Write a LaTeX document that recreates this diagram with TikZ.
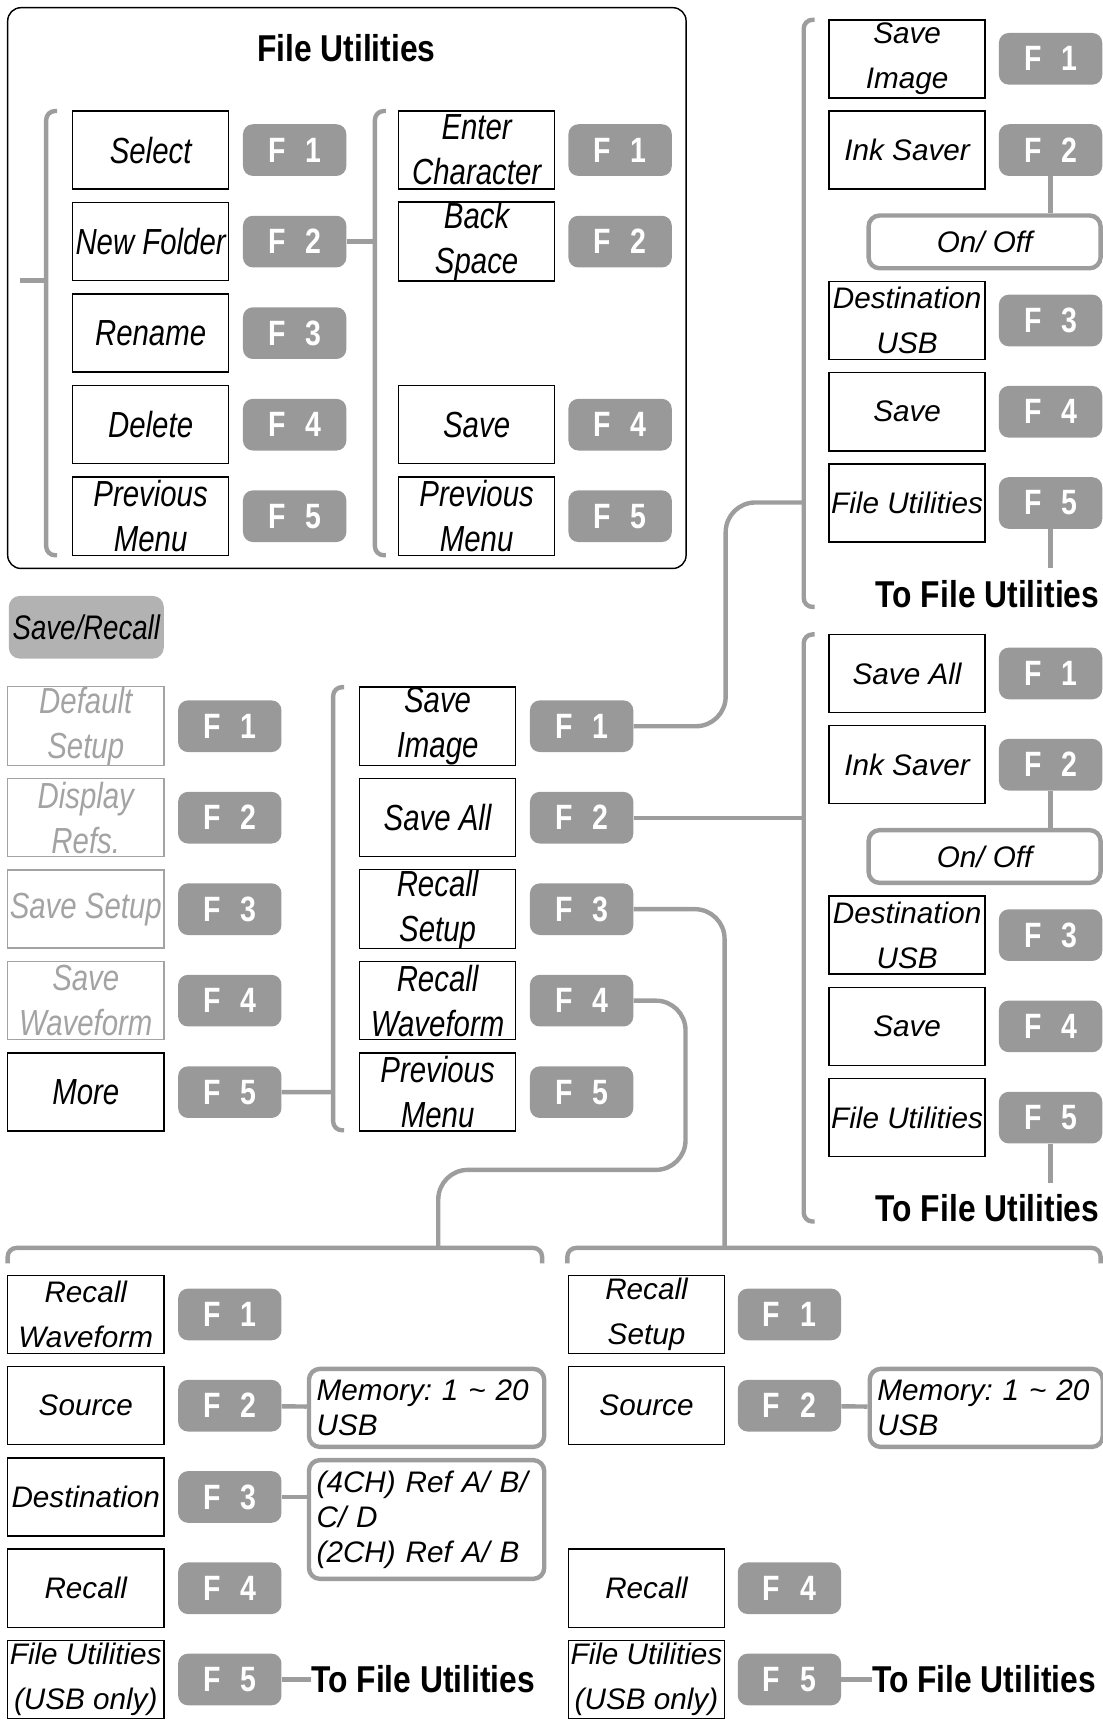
\documentclass[tikz,border=0pt]{standalone}
\usepackage{fontspec}
\setmainfont{Liberation Sans}
\newfontfamily\narrow[FakeStretch=0.81]{Liberation Sans}
\newfontfamily\narrowbf[FakeStretch=0.85]{Liberation Sans}
\usetikzlibrary{positioning}
\definecolor{keygrey}{HTML}{999999}
\definecolor{linegrey}{HTML}{9D9D9D}
\definecolor{offgrey}{HTML}{A3A3A3}
\definecolor{srgrey}{HTML}{B2B2B2}
\newcommand\Fk[1]{F\hspace{18pt}#1\hspace{5pt}}
\frenchspacing

\begin{document}
\begin{tikzpicture}[x=1pt, y=-1pt,
    item/.style={draw, line width=1.3pt, minimum width=142pt, minimum height=71pt, inner sep=0pt, align=center, font=\fontsize{27}{41}\selectfont\itshape},
    nitem/.style={item, font=\narrow\fontsize{33}{41}\selectfont\itshape},
    offitem/.style={nitem, draw=offgrey, text=offgrey},
    fkey/.style={fill=keygrey, rounded corners=9pt, minimum width=94pt, minimum height=47pt, inner sep=0pt, text=white, font=\narrow\fontsize{32}{32}\selectfont\bfseries},
    choice/.style={draw=linegrey, line width=4pt, rounded corners=10pt, minimum width=214pt, text width=200pt, inner xsep=7pt, inner ysep=0pt, align=left, anchor=north west, font=\fontsize{27}{32}\selectfont\itshape},
    onoff/.style={draw=linegrey, line width=4pt, rounded corners=10pt, minimum width=211pt, minimum height=48pt, inner sep=0pt, font=\fontsize{27}{32}\selectfont\itshape},
    goto/.style={inner sep=0pt, font=\narrowbf\fontsize{34}{34}\selectfont\bfseries},
    link/.style={draw=linegrey, line width=4pt, rounded corners=27pt},
    bracket/.style={draw=linegrey, line width=4pt, rounded corners=8pt}
  ]
  \useasboundingbox (0,0) rectangle (1003,1568);

  % File Utilities panel
  \node[draw, line width=1.3pt, rounded corners=12pt, minimum width=617pt, minimum height=510pt] (fu) at (315.5,262) {};
  \node[goto] (futitle) at (315,44) {File Utilities};
  \foreach \txt [count=\i] in {Select, New Folder, Rename, Delete, Previous\\Menu} {
    \node[nitem] (fa\i) at (137,{136.5+83.25*(\i-1)}) {\txt};
    \node[fkey] (fa-k\i) at (268,{136.5+83.25*(\i-1)}) {\Fk{\i}};
  }
  \foreach \txt/\i in {Enter\\Character/1, Back\\Space/2, Save/4, Previous\\Menu/5} {
    \node[nitem] (fb\i) at (433.5,{136.5+83.25*(\i-1)}) {\txt};
    \node[fkey] (fb-k\i) at (564,{136.5+83.25*(\i-1)}) {\Fk{\i}};
  }
  \draw[bracket] (52,101) -- (42,101) -- (42,505) -- (52,505);
  \draw[bracket] (351,101) -- (341,101) -- (341,505) -- (351,505);
  \coordinate (fu-stub) at (18,255);
  \coordinate (fb-in) at (341,219.75);
  \draw[link] (fu-stub) -- (42,255);
  \draw[link] (fa-k2) -- (fb-in);

  % Save/Recall menu
  \node[nitem, draw=none, fill=srgrey, rounded corners=10pt, minimum width=141pt, minimum height=57pt, font=\narrow\fontsize{31}{31}\selectfont\itshape] (sr) at (78.5,570.5) {Save/Recall};
  \foreach \txt/\st [count=\i] in {Default\\Setup/offitem, Display\\Refs./offitem, Save Setup/offitem, Save\\Waveform/offitem, More/nitem} {
    \node[\st] (ma\i) at (78,{660.5+83.2*(\i-1)}) {\txt};
    \node[fkey] (ma-k\i) at (209,{660.5+83.2*(\i-1)}) {\Fk{\i}};
  }
  \foreach \txt [count=\i] in {Save\\Image, Save All, Recall\\Setup, Recall\\Waveform, Previous\\Menu} {
    \node[nitem] (mb\i) at (398,{660.5+83.2*(\i-1)}) {\txt};
    \node[fkey] (mb-k\i) at (529,{660.5+83.2*(\i-1)}) {\Fk{\i}};
  }
  \draw[bracket] (313,625) -- (303,625) -- (303,1028) -- (313,1028);
  \coordinate (mb-in) at (303,993.3);
  \draw[link] (ma-k5) -- (mb-in);

  % Save Image / Save All
  \foreach \o/\g/\first in {0/ta/Save\\Image, 559/tb/Save All} {
    \foreach \txt/\y [count=\i] in {\first/53.5, Ink Saver/136.5, Destination\\USB/291.5, Save/374.5, File Utilities/457.5} {
      \node[item] (\g\i) at (825,{\y+\o}) {\txt};
      \node[fkey] (\g-k\i) at (955.5,{\y+\o}) {\Fk{\i}};
    }
    \node[onoff] (\g-on) at (895.5,{220+\o}) {On/ Off};
    \node[goto, anchor=east] (\g-go) at (1000,{540+\o}) {To File Utilities};
    \coordinate (\g-end) at (955.5,{517+\o});
    \draw[bracket] (741,{18+\o}) -- (731,{18+\o}) -- (731,{552+\o}) -- (741,{552+\o});
    \draw[link] (\g-k2) -- (\g-k2 |- \g-on.north);
    \draw[link] (\g-k5) -- (\g-end);
  }
  \coordinate (ta-in) at (731,457);
  \coordinate (tb-in) at (731,743.7);
  \coordinate (la-in) at (398.6,1135);
  \coordinate (lb-in) at (659,1135);
  \draw[link] (mb-k1.east) -| (660,457) -- (ta-in);
  \draw[link] (mb-k2) -- (tb-in);
  \draw[link] (mb-k3.east) -| (lb-in);
  \draw[link] (mb-k4.east) -| (623.5,1064) -| (la-in);

  % Recall Waveform / Recall Setup
  \draw[bracket] (7,1149) -- (7,1135) -- (493,1135) -- (493,1149);
  \draw[bracket] (516,1149) -- (516,1135) -- (1001,1135) -- (1001,1149);
  \foreach \txt [count=\i] in {Recall\\Waveform, Source, Destination, Recall, File Utilities\\(USB only)} {
    \node[item] (la\i) at (78,{1195.5+83*(\i-1)}) {\txt};
    \node[fkey] (la-k\i) at (209,{1195.5+83*(\i-1)}) {\Fk{\i}};
  }
  \foreach \txt/\i in {Recall\\Setup/1, Source/2, Recall/4, File Utilities\\(USB only)/5} {
    \node[item] (lb\i) at (588,{1195.5+83*(\i-1)}) {\txt};
    \node[fkey] (lb-k\i) at (718,{1195.5+83*(\i-1)}) {\Fk{\i}};
  }
  \node[choice, minimum height=71pt] (la-mem) at (279,1243) {Memory: 1 \textasciitilde{} 20\\USB};
  \node[choice, minimum height=108pt] (la-ref) at (279,1326) {(4CH) Ref A/ B/\\C/ D\\(2CH) Ref A/ B};
  \node[choice, minimum height=71pt, minimum width=212pt, text width=198pt] (lb-mem) at (789,1243) {Memory: 1 \textasciitilde{} 20\\USB};
  \node[goto, anchor=west] (la-go) at (283,1527.5) {To File Utilities};
  \node[goto, anchor=west] (lb-go) at (793,1527.5) {To File Utilities};
  \draw[link] (la-k2) -- (la-mem);
  \draw[link] (la-k3) -- (la-k3 -| la-ref.west);
  \draw[link] (la-k5) -- (la-go);
  \draw[link] (lb-k2) -- (lb-mem);
  \draw[link] (lb-k5) -- (lb-go);
\end{tikzpicture}
\end{document}
